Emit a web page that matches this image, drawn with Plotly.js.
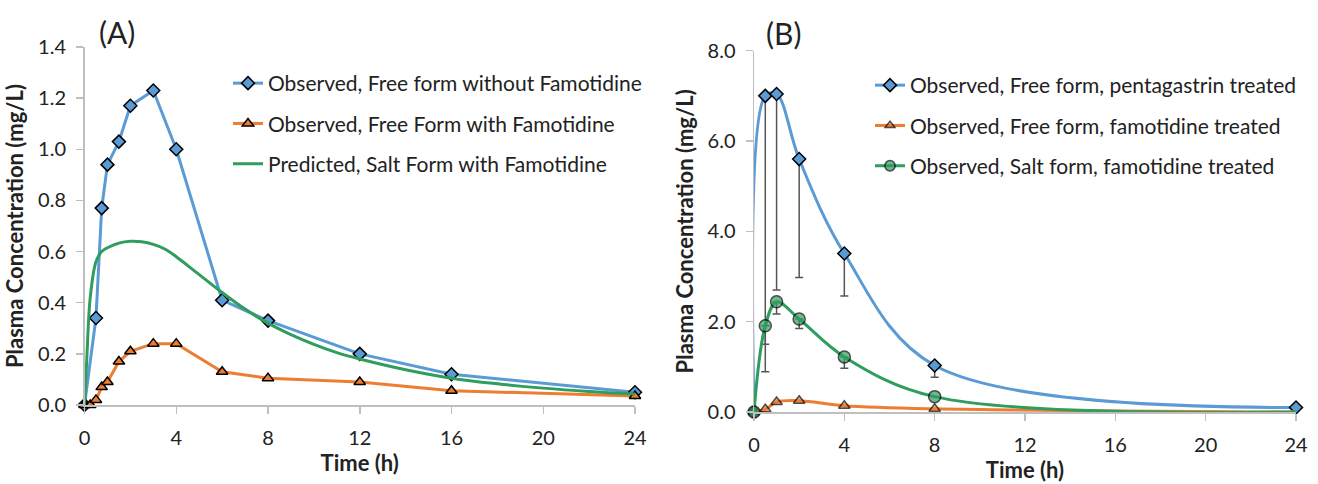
<!DOCTYPE html>
<html>
<head>
<meta charset="utf-8">
<script src="https://cdn.plot.ly/plotly-3.0.1.min.js"></script>
<style>html,body{margin:0;padding:0;background:#fff;}#chart{width:1318px;height:484px;}</style>
</head>
<body>
<div id="chart"></div>
<script>
// ---------- Panel A data ----------
const timeA_blue = [0, 0.5, 0.75, 1, 1.5, 2, 3, 4, 6, 8, 12, 16, 24];
const concA_blue = [0, 0.34, 0.77, 0.94, 1.03, 1.17, 1.23, 1.00, 0.41, 0.33, 0.20, 0.12, 0.05];
const timeA_orange = [0, 0.25, 0.5, 0.75, 1, 1.5, 2, 3, 4, 6, 8, 12, 16, 24];
const concA_orange = [0, 0, 0.02, 0.07, 0.09, 0.17, 0.21, 0.24, 0.24, 0.13, 0.105, 0.09, 0.056, 0.035];
const timeA_green = [0, 0.1, 0.25, 0.5, 0.75, 1, 1.5, 2, 2.5, 3, 3.5, 4, 5, 6, 7, 8, 9, 10, 11, 12, 14, 16, 18, 20, 22, 24];
const concA_green = [0, 0.18, 0.42, 0.56, 0.60, 0.615, 0.633, 0.64, 0.638, 0.628, 0.61, 0.58, 0.51, 0.44, 0.375, 0.32, 0.275, 0.237, 0.205, 0.18, 0.138, 0.105, 0.083, 0.066, 0.053, 0.043];

// ---------- Panel B data ----------
const timeB = [0, 0.5, 1, 2, 4, 8, 24];
const concB_blue = [0, 7.0, 7.04, 5.6, 3.51, 1.03, 0.1];
const errB_blue_minus = [0, 6.11, 4.34, 2.62, 0.94, 0.26, 0];
const concB_orange = [0, 0.06, 0.22, 0.25, 0.14, 0.07, 0.0];
const concB_green = [0, 1.91, 2.44, 2.06, 1.22, 0.34, 0.0];
const errB_green_minus = [0, 0.41, 0.27, 0.21, 0.25, 0, 0];

const legendA = ['Observed, Free form without Famotidine', 'Observed, Free Form with Famotidine', 'Predicted, Salt Form with Famotidine'];
const legendB = ['Observed, Free form, pentagastrin treated', 'Observed, Free form, famotidine treated', 'Observed, Salt form, famotidine treated'];

const BLUE = '#5B9BD5', ORANGE = '#ED7D31', GREEN = '#2E9D5E';
const FONT = 'Lato, "Open Sans", sans-serif';
const TXT = '#222222';
const W = 1318, H = 484;

const zeros = a => a.map(() => 0);
const sizesHideLast = (a, s) => a.map((_, i) => i === a.length - 1 ? 0 : s);

const traces = [
  {x: timeA_blue, y: concA_blue, name: legendA[0], mode: 'lines+markers', xaxis: 'x', yaxis: 'y', legend: 'legend', legendgroup: 'a1',
   line: {color: BLUE, width: 3}, marker: {symbol: 'diamond', size: 10, color: BLUE, line: {color: '#000', width: 1.5}}, cliponaxis: false},
  {x: timeA_orange, y: concA_orange, name: legendA[1], mode: 'lines+markers', xaxis: 'x', yaxis: 'y', legend: 'legend', legendgroup: 'a2',
   line: {color: ORANGE, width: 3}, marker: {symbol: 'triangle-up', size: 10, color: ORANGE, line: {color: '#000', width: 1.5}}, cliponaxis: false},
  {x: timeA_green, y: concA_green, name: legendA[2], mode: 'lines', xaxis: 'x', yaxis: 'y', legend: 'legend', legendgroup: 'a3',
   line: {color: GREEN, width: 3, shape: 'spline', smoothing: 1}, cliponaxis: false},

  {x: timeB, y: concB_blue, name: legendB[0], mode: 'lines+markers', xaxis: 'x2', yaxis: 'y2', legend: 'legend2', legendgroup: 'b1',
   line: {color: BLUE, width: 3, shape: 'spline', smoothing: 1}, marker: {symbol: 'diamond', size: 10, color: BLUE, line: {color: '#000', width: 1.5}},
   error_y: {type: 'data', symmetric: false, array: zeros(timeB), arrayminus: errB_blue_minus, color: '#555555', thickness: 1.5, width: 4},
   cliponaxis: false},
  {x: timeB, y: concB_orange, name: legendB[1], mode: 'lines+markers', xaxis: 'x2', yaxis: 'y2', legend: 'legend2', legendgroup: 'b2',
   line: {color: ORANGE, width: 3, shape: 'spline', smoothing: 1}, marker: {symbol: 'triangle-up', size: sizesHideLast(timeB, 10), color: ORANGE, line: {color: '#000', width: 1.5}},
   cliponaxis: false},
  {x: timeB, y: concB_green, name: legendB[2], mode: 'lines+markers', xaxis: 'x2', yaxis: 'y2', legend: 'legend2', legendgroup: 'b3',
   line: {color: GREEN, width: 3, shape: 'spline', smoothing: 1}, marker: {symbol: 'circle', size: sizesHideLast(timeB, 12), color: GREEN, line: {color: '#000', width: 1.5}},
   error_y: {type: 'data', symmetric: false, array: zeros(timeB), arrayminus: errB_green_minus, color: '#555555', thickness: 1.5, width: 4},
   cliponaxis: false}
];

const axBase = {
  showgrid: false, zeroline: false, showline: true, linecolor: '#BFBFBF', linewidth: 1.5,
  ticks: 'outside', tickcolor: '#BFBFBF', ticklen: 7, tickwidth: 1.5,
  tickfont: {family: FONT, size: 20, color: TXT}, automargin: false, fixedrange: true
};
const titleFont = {family: FONT, size: 22, color: TXT, weight: 'bold'};

const layout = {
  width: W, height: H,
  margin: {l: 0, r: 0, t: 0, b: 0},
  paper_bgcolor: '#ffffff', plot_bgcolor: '#ffffff',
  showlegend: true,
  xaxis: Object.assign({}, axBase, {domain: [84.5 / W, 635 / W], range: [0, 24], dtick: 4, tick0: 0, anchor: 'y', ticklabelstandoff: 7,
    title: {text: 'Time (h)', font: titleFont, standoff: 8}}),
  yaxis: Object.assign({}, axBase, {domain: [(H - 405) / H, (H - 47) / H], range: [0, 1.4], dtick: 0.2, tick0: 0, tickformat: '.1f', anchor: 'x', ticklabelstandoff: 6,
    title: {text: 'Plasma Concentration (mg/L)', font: titleFont, standoff: 8}}),
  xaxis2: Object.assign({}, axBase, {domain: [754 / W, 1296 / W], range: [0, 24], dtick: 4, tick0: 0, anchor: 'y2', ticklabelstandoff: 7,
    title: {text: 'Time (h)', font: titleFont, standoff: 8}}),
  yaxis2: Object.assign({}, axBase, {domain: [(H - 412) / H, (H - 50.7) / H], range: [0, 8], dtick: 2, tick0: 0, tickformat: '.1f', anchor: 'x2', ticklabelstandoff: 6,
    title: {text: 'Plasma Concentration (mg/L)', font: titleFont, standoff: 8}}),
  legend: {x: 228 / W, y: 1 - 63 / H, xanchor: 'left', yanchor: 'top', xref: 'paper', yref: 'paper',
    font: {family: FONT, size: 21, color: TXT}, bgcolor: 'rgba(0,0,0,0)', tracegroupgap: 10, itemwidth: 30},
  legend2: {x: 870 / W, y: 1 - 65 / H, xanchor: 'left', yanchor: 'top', xref: 'paper', yref: 'paper',
    font: {family: FONT, size: 21, color: TXT}, bgcolor: 'rgba(0,0,0,0)', tracegroupgap: 10, itemwidth: 30},
  annotations: [
    {text: '(A)', x: 117 / W, y: 1 - 32 / H, xref: 'paper', yref: 'paper', showarrow: false, xanchor: 'center', yanchor: 'middle',
     font: {family: FONT, size: 30, color: TXT}},
    {text: '(B)', x: 783 / W, y: 1 - 33 / H, xref: 'paper', yref: 'paper', showarrow: false, xanchor: 'center', yanchor: 'middle',
     font: {family: FONT, size: 30, color: TXT}}
  ]
};

Plotly.newPlot('chart', traces, layout, {displayModeBar: false, staticPlot: true});
</script>
</body>
</html>
